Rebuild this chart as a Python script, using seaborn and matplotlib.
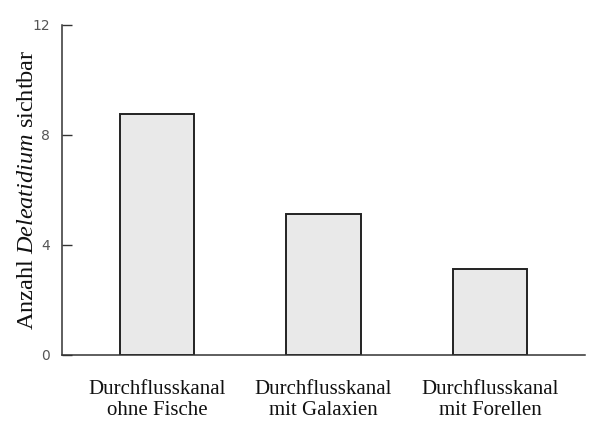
import pandas as pd
import matplotlib.pyplot as plt
import seaborn as sns

# data
kanal = ["Durchflusskanal\nohne Fische", "Durchflusskanal\nmit Galaxien", "Durchflusskanal\nmit Forellen"]
anzahl = [8.75, 5.13, 3.13]
y_ticks = [0, 4, 8, 12]

df = pd.DataFrame({"kanal": kanal, "anzahl": anzahl})

sns.set_theme(style="white")
plt.rcParams["font.family"] = ["Liberation Serif", "DejaVu Serif"]
plt.rcParams["mathtext.fontset"] = "custom"
plt.rcParams["mathtext.rm"] = "Liberation Serif"
plt.rcParams["mathtext.it"] = "Liberation Serif:italic"

fig = plt.figure(figsize=(6.03, 4.21), dpi=100)
ax = fig.add_axes([0.103, 0.157, 0.867, 0.784])

sns.barplot(data=df, x="kanal", y="anzahl", color="#e9e9e9", edgecolor="#222222",
            linewidth=1.4, width=0.445, saturation=1, ax=ax)

ax.set_xlim(-0.57, 2.57)
ax.set_ylim(0, 12)
ax.set_yticks(y_ticks)
ax.set_yticklabels([str(t) for t in y_ticks], family="DejaVu Sans", fontsize=10, color="#555555")
ax.tick_params(axis="y", direction="in", length=7, width=1, color="#333333", pad=9, left=True)
ax.tick_params(axis="x", length=0, pad=18, labelsize=15, colors="#111111")
for lab in ax.get_xticklabels():
    lab.set_linespacing(1.15)

sns.despine(ax=ax)
for side in ["left", "bottom"]:
    ax.spines[side].set_color("#333333")
    ax.spines[side].set_linewidth(1.1)

ax.set_xlabel("")
ax.set_ylabel(r"Anzahl $\mathit{Deleatidium}$ sichtbar", fontsize=17.5, color="#111111")
ax.yaxis.set_label_coords(-0.046, 0.5)

fig.savefig("out.png", dpi=100)
